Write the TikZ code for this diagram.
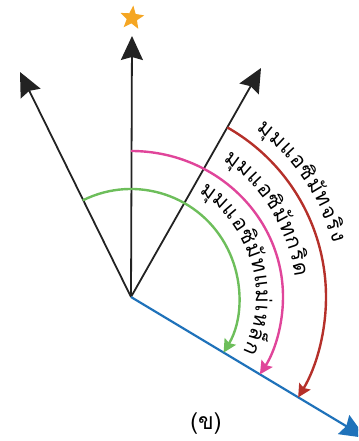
\documentclass[tikz,border=0pt]{standalone}
\usepackage{fontspec}
\newfontfamily\thaifont[Script=Thai]{Loma}
\usetikzlibrary{arrows.meta,shapes.geometric,decorations.text}
\definecolor{azred}{HTML}{B5302A}
\definecolor{azpink}{HTML}{E0459A}
\definecolor{azgreen}{HTML}{6DBE5B}
\definecolor{azblue}{HTML}{1F72BA}
\definecolor{azblack}{HTML}{222222}
\definecolor{azstar}{HTML}{F5A623}
\newcommand\thaitext{\thaifont\fontsize{21bp}{21bp}\selectfont}
\tikzset{
  dirline/.style={draw=azblack, line width=1.8bp, -{Stealth[length=24bp,width=22bp,inset=3bp]}},
  northline/.style={draw=azblue, line width=2.2bp, -{Stealth[length=26bp,width=22bp,inset=3bp]}},
  anglearc/.style={line width=2.4bp, -{Stealth[length=13bp,width=13bp,inset=2bp]}},
  arclabel/.style={decorate, decoration={text along path, text align=fit to path, text={#1}}},
}
\begin{document}
\begin{tikzpicture}[x=1bp,y=1bp]
\useasboundingbox (0,0) rectangle (358,441);
\clip (0,0) rectangle (358,441);
\coordinate (O) at (131,144);
\coordinate (tipN) at (132,405);
\coordinate (tipL) at (20,369);
\coordinate (tipR) at (261,373);
\coordinate (tipB) at (366,3);
% lines
\draw[dirline] (O) -- (tipN);
\draw[dirline] (O) -- (tipL);
\draw[dirline] (O) -- (tipR);
\draw[northline] (O) -- (tipB);
% star
\node[star, star points=5, star point ratio=2.3, fill=azstar, draw=none, minimum size=25bp, inner sep=0pt, rotate=-6] (star) at (132,423) {};
% arcs
\draw[anglearc, draw=azgreen] (O) ++(116.5:108bp) arc[start angle=116.5, end angle=-31, radius=108bp];
\draw[anglearc, draw=azpink] (O) ++(0,146bp) arc[start angle=90, end angle=-32, x radius=152bp, y radius=146bp];
\draw[anglearc, draw=azred] (O) ++(60.4:195bp) arc[start angle=60.4, end angle=-31, radius=195bp];
% arc labels
\path[arclabel={|\thaitext|{มุ}มแอ{ซิ}{มั}ท{จ}{ริ}ง}] (O) ++(53:209bp) arc[start angle=53, end angle=15, radius=209bp];
\path[arclabel={|\thaitext|{มุ}มแอ{ซิ}{มั}ทก{ริ}ด}] (O) ++(56:165bp) arc[start angle=56, end angle=7, radius=165bp];
\path[arclabel={|\thaitext|{มุ}มแอ{ซิ}{มั}ทแ{ม่}เห{ล็}ก}] (O) ++(57:125bp) arc[start angle=57, end angle=-26, radius=125bp];
% caption
\node[font=\thaifont\fontsize{23bp}{23bp}\selectfont, inner sep=0pt] (cap) at (206,17) {(ข)};
\end{tikzpicture}
\end{document}
